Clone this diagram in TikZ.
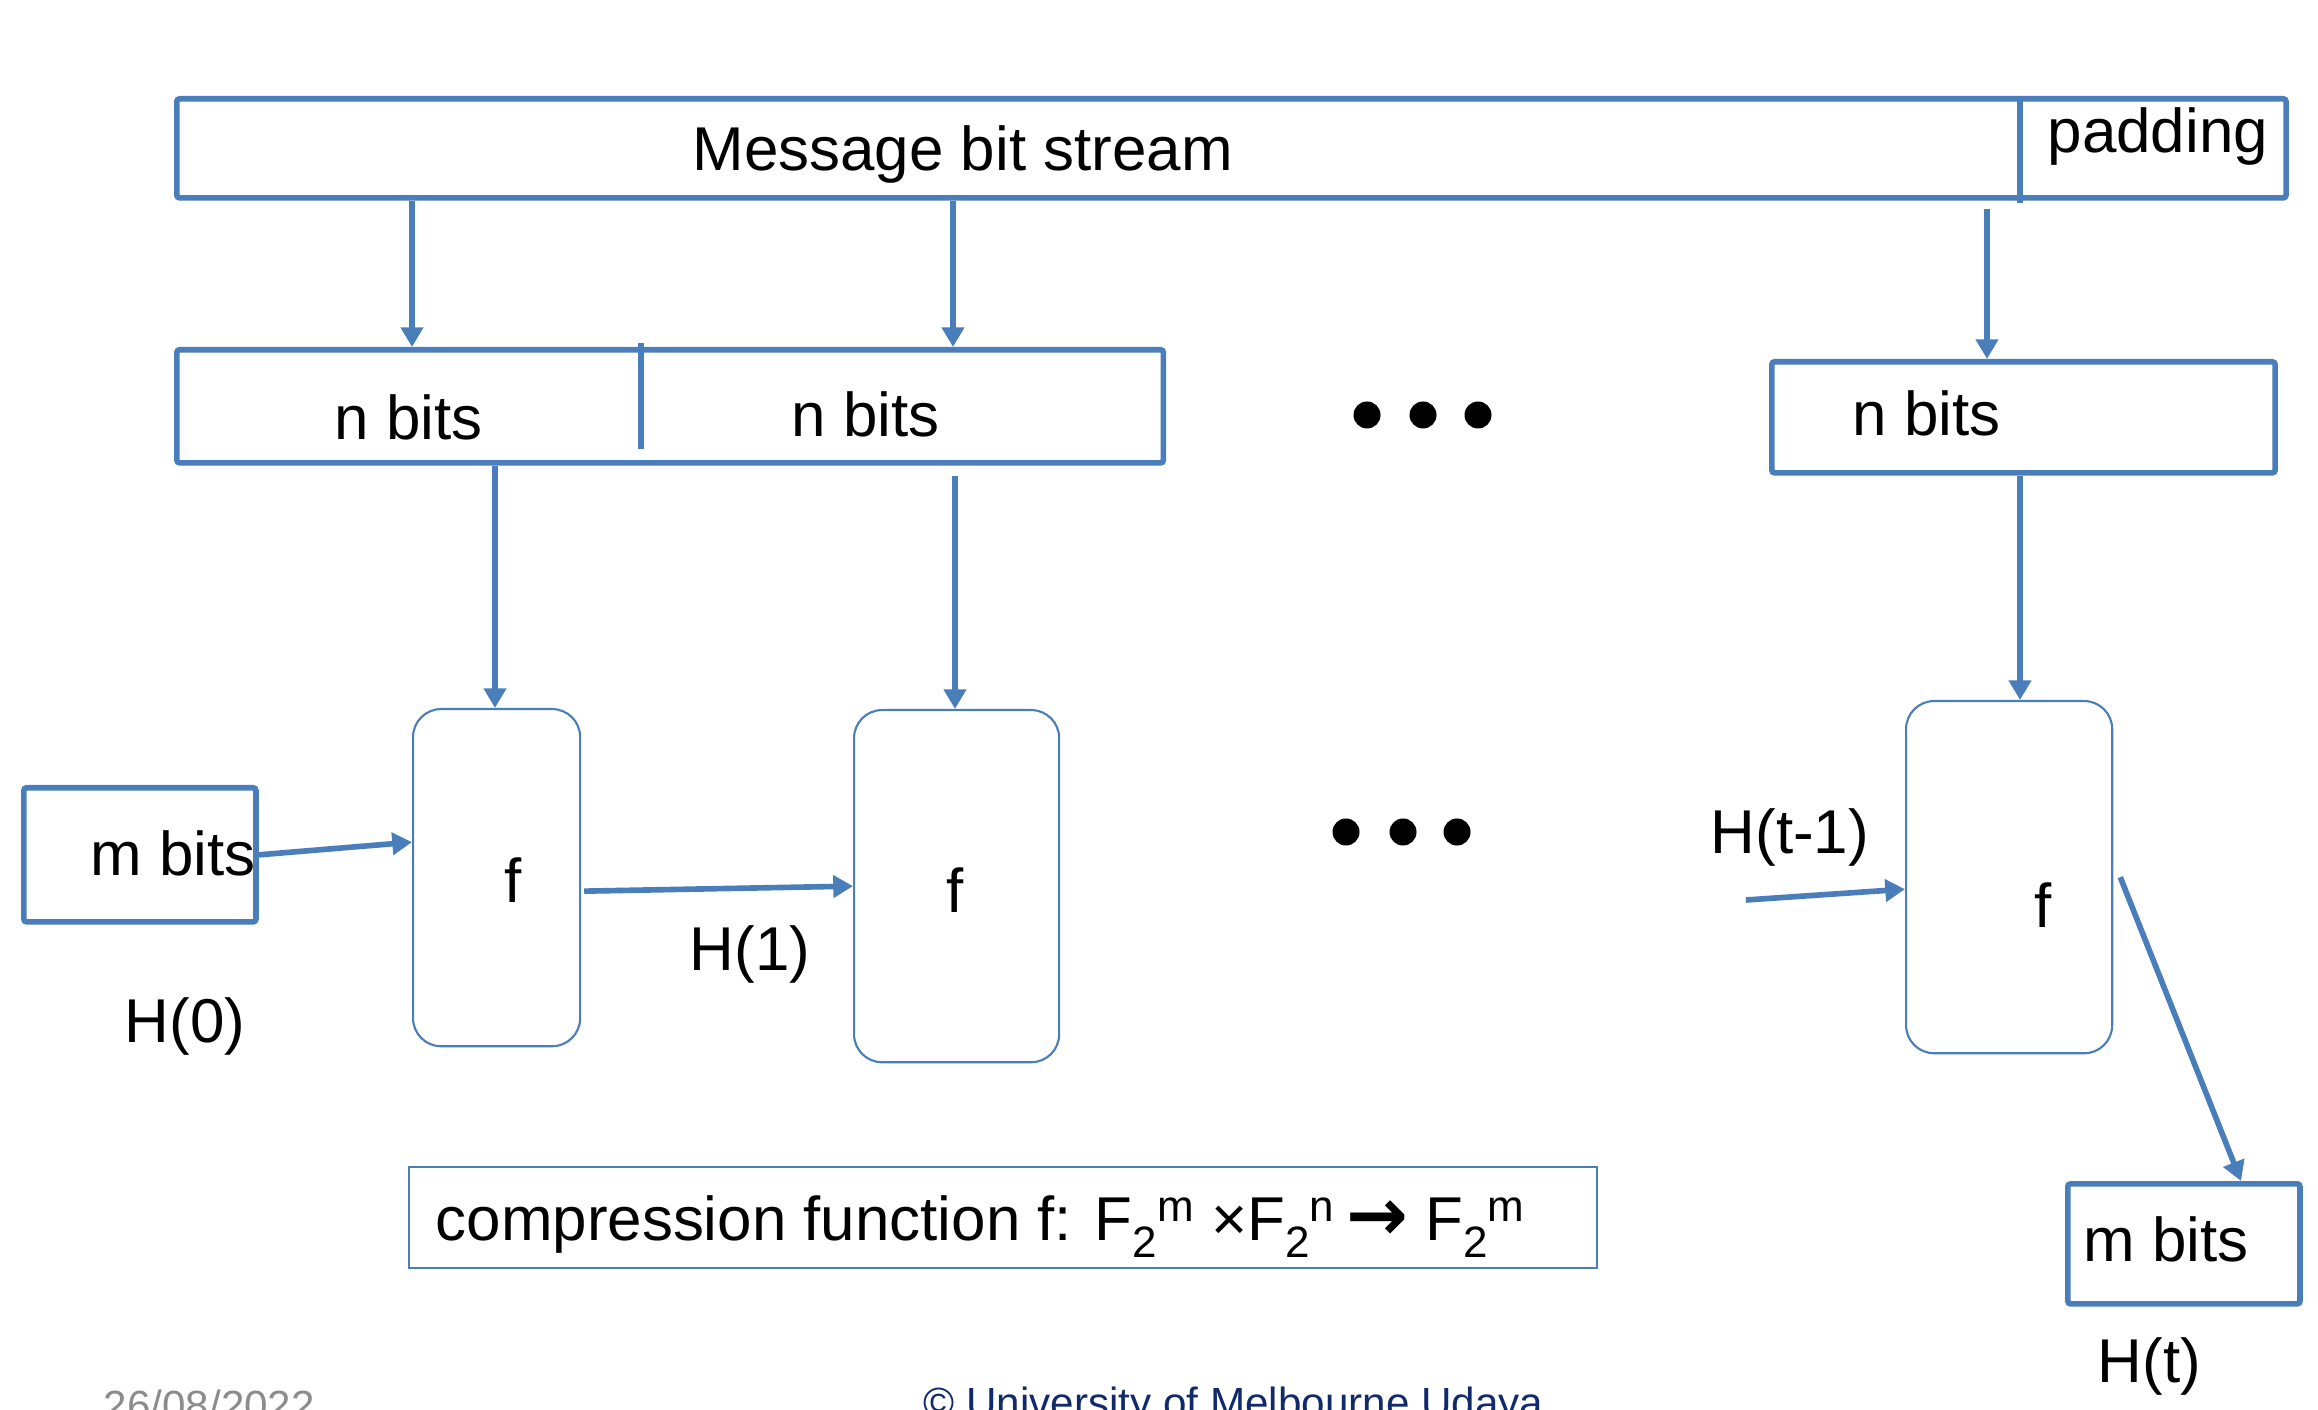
\documentclass[tikz,border=0pt]{standalone}
\usepackage{fontspec}
\setmainfont{Liberation Sans}
\newfontfamily\dejavu{DejaVu Sans}
\usetikzlibrary{arrows.meta}
\definecolor{bl}{HTML}{4A7EBB}
\definecolor{navyc}{HTML}{102A6B}
\definecolor{dategray}{HTML}{8C8C8C}
\newcommand{\Ftw}[1]{F\raisebox{-0.29em}{\fontsize{12.5}{12}\selectfont 2}\raisebox{0.3em}{\fontsize{12.5}{12}\selectfont #1}}
\begin{document}
\begin{tikzpicture}[x=0.01cm,y=-0.01cm,
  thickbox/.style={draw=bl,line width=1.6pt,inner sep=0pt,rounded corners=0.8pt,anchor=north west},
  fbox/.style={draw=bl,line width=0.6pt,rounded corners=0.28cm,inner sep=0pt,anchor=north west},
  lbl/.style={font=\fontsize{17.6}{21}\selectfont,inner sep=0pt,anchor=base west},
  arr/.style={draw=bl,line width=1.6pt,-{Triangle[width=6.2pt,length=5.6pt]}},
  bigdot/.style={circle,fill=black,inner sep=0pt,minimum size=0.27cm}]
\useasboundingbox (0,0) rectangle (2318,1410);

% boxes
\node[thickbox,minimum width=21.08cm,minimum height=0.99cm] (msg) at (174,96) {};
\draw[bl,line width=1.6pt] (2020,96) -- (2020,203);
\node[thickbox,minimum width=9.86cm,minimum height=1.13cm] (nbA) at (174,347) {};
\draw[bl,line width=1.6pt] (641,343) -- (641,449);
\node[thickbox,minimum width=5.03cm,minimum height=1.11cm] (nbC) at (1769,359) {};
\node[fbox,minimum width=1.67cm,minimum height=3.37cm] (f1) at (412,708) {};
\node[fbox,minimum width=2.05cm,minimum height=3.52cm] (f2) at (853,709) {};
\node[fbox,minimum width=2.06cm,minimum height=3.52cm] (f3) at (1905,700) {};
\node[thickbox,minimum width=2.32cm,minimum height=1.34cm] (mb0) at (21,785) {};
\node[thickbox,minimum width=2.32cm,minimum height=1.20cm] (mbt) at (2065,1181) {};
\node[draw=bl,line width=0.6pt,inner sep=0pt,minimum width=11.87cm,minimum height=1.01cm,anchor=north west] (comp) at (408,1166) {};

% texts
\node[lbl] (tmsg) at (692,171) {Message bit stream};
\node[lbl] (tpad) at (2047,153) {padding};
\node[lbl] (tn1) at (334,440) {n bits};
\node[lbl] (tn2) at (791,437) {n bits};
\node[lbl] (tn3) at (1852,436) {n bits};
\node[lbl,anchor=base] (tf1) at (513,903) {f};
\node[lbl,anchor=base] (tf2) at (955,913) {f};
\node[lbl,anchor=base] (tf3) at (2043,928) {f};
\node[lbl] (tm0) at (90,876) {m bits};
\node[lbl] (tmt) at (2083,1261) {m bits};
\node[lbl] (th0) at (124,1042) {H(0)};
\node[lbl] (th1) at (689,971) {H(1)};
\node[lbl] (tht1) at (1710,854) {H(t-1)};
\node[lbl] (tht) at (2097,1382) {H(t)};
\node[lbl] (tcomp) at (435,1240) {compression function f: \Ftw{m} ×\Ftw{n}\kern0.2em{\dejavu\bfseries\fontsize{21}{21}\selectfont →} \Ftw{m}};

% dots
\node[bigdot] (d1) at (1367,415) {};
\node[bigdot] (d2) at (1423,415) {};
\node[bigdot] (d3) at (1478,415) {};
\node[bigdot] (d4) at (1346,832) {};
\node[bigdot] (d5) at (1403,832) {};
\node[bigdot] (d6) at (1457,832) {};

% helper coordinates
\coordinate (c412) at (412,0);
\coordinate (c953) at (953,0);
\coordinate (c1987) at (1987,0);
\coordinate (c495) at (495,0);
\coordinate (c955) at (955,0);
\coordinate (c2020) at (2020,0);
\coordinate (c2241) at (2241,0);
\coordinate (a7e) at ([yshift=0.355cm]f1.west);
\coordinate (a8s) at ([yshift=-0.135cm,xshift=0.03cm]f1.east);
\coordinate (a9s) at (1746,900);
\coordinate (a9e) at ([yshift=-0.12cm]f3.west);
\coordinate (a10s) at ([xshift=0.07cm]f3.east);

% arrows
\draw[arr] (msg.south -| c412) -- (nbA.north -| c412);
\draw[arr] (msg.south -| c953) -- (nbA.north -| c953);
\draw[arr,shorten <=0.08cm] (msg.south -| c1987) -- (nbC.north -| c1987);
\draw[arr] (nbA.south -| c495) -- (f1.north -| c495);
\draw[arr,shorten <=0.1cm] (nbA.south -| c955) -- (f2.north -| c955);
\draw[arr] (nbC.south -| c2020) -- (f3.north -| c2020);
\draw[arr] (mb0.east) -- (a7e);
\draw[arr] (a8s) -- (f2.west);
\draw[arr] (a9s) -- (a9e);
\draw[arr] (a10s) -- (mbt.north -| c2241);

% footer (cut off by page edge)
\begin{scope}
\clip (0,0) rectangle (2318,1410);
\node[font=\fontsize{12}{14}\selectfont,text=dategray,inner sep=0pt,anchor=base west] (date) at (103,1420) {26/08/2022};
\node[font=\fontsize{12}{14}\selectfont,text=navyc,inner sep=0pt,anchor=base west] (copy) at (923,1417) {© University of Melbourne Udaya};
\end{scope}
\end{tikzpicture}
\end{document}
